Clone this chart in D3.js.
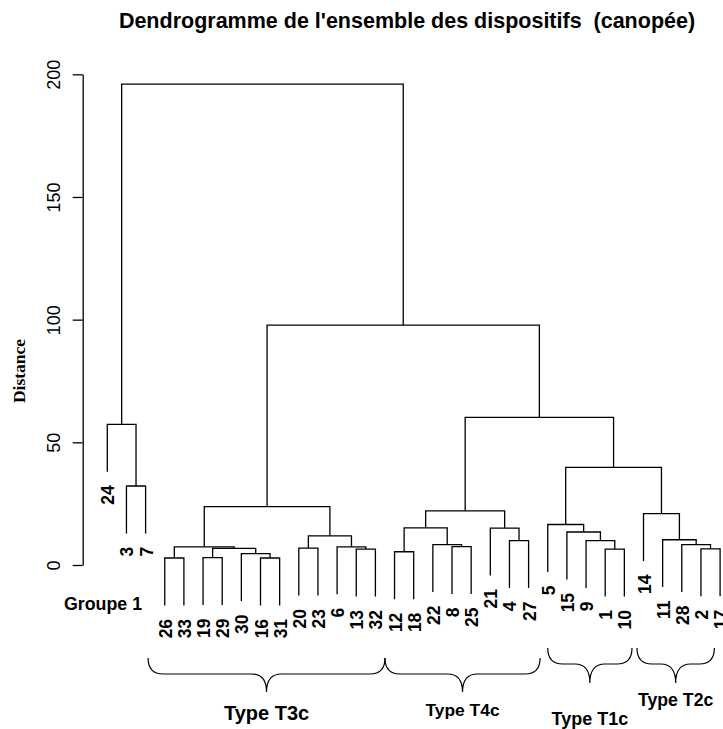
<!DOCTYPE html>
<html>
<head>
<meta charset="utf-8">
<script src="https://cdn.jsdelivr.net/npm/d3@7"></script>
<style>
  html, body { margin: 0; padding: 0; background: #fff; }
  svg { display: block; }
  text { font-family: "Liberation Sans", Arial, Helvetica, sans-serif; fill: #000; }
</style>
</head>
<body>
<svg id="chart" width="723" height="729"></svg>
<script>
// Leaf order along the x axis (left to right)
const leafOrder = ["24","3","7","26","33","19","29","30","16","31","20","23","6","13","32",
                   "12","18","22","8","25","21","4","27","5","15","9","1","10","14","11","28","2","17"];

// Agglomeration steps: a string is a leaf label, a number refers to an earlier step
const mergeLeft   = ["16","26","19","30", 2, 1,"13","6","20", 8, 5,"12","8","22",11,"4","21",14,"1","9","15","5","2","28","11","14",21,17,10,"3","24",30];
const mergeRight  = ["31","33","29", 0,   3, 4,"32", 6,"23", 7, 9,"18","25",12,13,"27",15,16,"10",18,19,20,"17",22,23,24,25,26,27,"7",29,28];
const mergeHeight = [2.85,2.85,3.0,4.6,6.8,7.4,6.5,7.4,6.9,11.9,23.8,5.4,7.5,8.3,15.1,9.9,15.0,22.1,6.5,9.9,13.45,16.5,6.6,8.3,10.3,20.9,39.8,60.2,97.8,32.2,57.3,196];

// Y axis ticks
const yTicks = [0, 50, 100, 150, 200];

// Annotated groups: label and brace span in leaf-position units
const groupNames = ["Type T3c", "Type T4c", "Type T1c", "Type T2c"];
const groupStart = [2.13, 14.5, 23.0, 27.66];
const groupEnd   = [14.5, 22.6, 27.4, 31.7];

const svg = d3.select("#chart");

const x = d3.scaleLinear().domain([0, leafOrder.length - 1]).range([107.3, 720.1]);
const y = d3.scaleLinear().domain([0, 200]).range([565, 74.3]);

// Build the tree from the merge table
function buildNode(ref) {
  if (typeof ref === "string") return { name: ref };
  return { h: mergeHeight[ref], children: [buildNode(mergeLeft[ref]), buildNode(mergeRight[ref])] };
}
const root = d3.hierarchy(buildNode(mergeHeight.length - 1));
const hang = 0.1 * (d3.max(mergeHeight) - d3.min(mergeHeight));

root.eachAfter(n => {
  if (!n.children) n.px = x(leafOrder.indexOf(n.data.name));
  else n.px = d3.mean(n.children, c => c.px);
});

// Branches
const branches = [];
root.each(n => { if (n.children) branches.push(n); });
const endY = (child, parent) => child.children ? y(child.data.h) : y(parent.data.h - hang);

svg.append("g")
  .selectAll("path")
  .data(branches)
  .join("path")
  .attr("fill", "none")
  .attr("stroke", "#000")
  .attr("stroke-width", 1.3)
  .attr("d", n => {
    const [a, b] = n.children;
    const yn = y(n.data.h);
    return `M${a.px},${endY(a, n)}V${yn}H${b.px}V${endY(b, n)}`;
  });

// Leaf labels
const leaves = root.leaves();
svg.append("g")
  .selectAll("text")
  .data(leaves)
  .join("text")
  .attr("transform", d => `translate(${d.px},${y(d.parent.data.h - hang) + 13.5}) rotate(-90)`)
  .attr("text-anchor", "end")
  .attr("dy", "0.4em")
  .style("font-size", "17.5px")
  .style("font-weight", "bold")
  .text(d => d.data.name);

// Y axis
const axis = svg.append("g")
  .attr("transform", "translate(82.7,0)")
  .call(d3.axisLeft(y).tickValues(yTicks).tickSize(10).tickSizeOuter(0).tickFormat(d3.format("d")));
axis.select(".domain").attr("stroke", "#000").attr("stroke-width", 1.3);
axis.selectAll(".tick line").attr("stroke", "#000").attr("stroke-width", 1.3);
axis.selectAll(".tick text")
  .attr("transform", "rotate(-90)")
  .attr("x", 0)
  .attr("y", -22.7)
  .attr("dy", 0)
  .attr("text-anchor", "middle")
  .attr("fill", "#000")
  .style("font-family", '"Liberation Sans", Arial, sans-serif')
  .style("font-size", "18px");

// Axis title
svg.append("text")
  .attr("transform", "translate(25,371) rotate(-90)")
  .attr("text-anchor", "middle")
  .style("font-family", '"Liberation Serif", "Times New Roman", serif')
  .style("font-weight", "bold")
  .style("font-size", "17.5px")
  .text("Distance");

// Title (keeps its double space)
svg.append("text")
  .attr("x", 407)
  .attr("y", 28)
  .attr("text-anchor", "middle")
  .style("white-space", "pre")
  .style("font-weight", "bold")
  .style("font-size", "21.5px")
  .text("Dendrogramme de l'ensemble des dispositifs  (canopée)");

// Annotation for the isolated group
svg.append("text")
  .attr("x", 64)
  .attr("y", 610)
  .style("font-weight", "bold")
  .style("font-size", "17.8px")
  .text("Groupe 1");

// Curly braces under each type group
const braceTop   = [658, 658, 648, 648];
const braceFlat  = [674, 674, 664, 664];
const braceTip   = [692, 692, 683, 683];
const labelY     = [719.5, 715.5, 724.5, 706];
const labelSize  = [20, 17.4, 18, 17.7];

function bracePath(x0, x1, yTop, yFlat, yTip) {
  const r = 15, xm = (x0 + x1) / 2;
  return `M${x0},${yTop}Q${x0},${yFlat} ${x0 + r},${yFlat}` +
         `L${xm - r},${yFlat}Q${xm},${yFlat} ${xm},${yTip}` +
         `Q${xm},${yFlat} ${xm + r},${yFlat}` +
         `L${x1 - r},${yFlat}Q${x1},${yFlat} ${x1},${yTop}`;
}

const groups = groupNames.map((name, i) => ({ name, i }));
svg.append("g")
  .selectAll("path")
  .data(groups)
  .join("path")
  .attr("fill", "none")
  .attr("stroke", "#000")
  .attr("stroke-width", 1.2)
  .attr("d", g => bracePath(x(groupStart[g.i]), x(groupEnd[g.i]), braceTop[g.i], braceFlat[g.i], braceTip[g.i]));

svg.append("g")
  .selectAll("text")
  .data(groups)
  .join("text")
  .attr("x", g => (x(groupStart[g.i]) + x(groupEnd[g.i])) / 2)
  .attr("y", g => labelY[g.i])
  .attr("text-anchor", "middle")
  .style("font-weight", "bold")
  .style("font-size", g => labelSize[g.i] + "px")
  .text(g => g.name);
</script>
</body>
</html>
